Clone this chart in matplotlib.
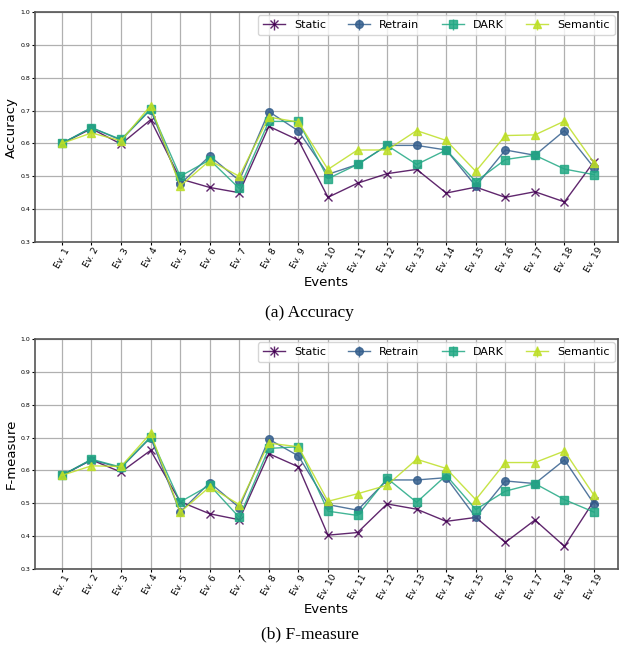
import matplotlib
matplotlib.use("Agg")
import matplotlib.pyplot as plt
import numpy as np

# ---------------------------------------------------------------------------
# data
# ---------------------------------------------------------------------------
events = [f"Ev. {i}" for i in range(1, 20)]
methods = ["Static", "Retrain", "DARK", "Semantic"]

acc_static = [0.600, 0.645, 0.598, 0.672, 0.492, 0.466, 0.450, 0.652, 0.610, 0.436,
              0.479, 0.508, 0.521, 0.449, 0.467, 0.436, 0.453, 0.422, 0.545]
acc_retrain = [0.600, 0.648, 0.610, 0.703, 0.476, 0.562, 0.487, 0.697, 0.638, 0.506,
               0.536, 0.594, 0.594, 0.580, 0.470, 0.580, 0.564, 0.639, 0.526]
acc_dark = [0.600, 0.648, 0.612, 0.705, 0.500, 0.550, 0.463, 0.667, 0.667, 0.493,
            0.536, 0.594, 0.536, 0.580, 0.484, 0.551, 0.564, 0.522, 0.505]
acc_semantic = [0.600, 0.632, 0.608, 0.715, 0.470, 0.548, 0.500, 0.680, 0.665, 0.521,
                0.580, 0.580, 0.639, 0.609, 0.515, 0.624, 0.626, 0.668, 0.541]

f1_static = [0.585, 0.632, 0.595, 0.661, 0.505, 0.468, 0.450, 0.651, 0.611, 0.403,
             0.411, 0.498, 0.482, 0.445, 0.457, 0.381, 0.449, 0.369, 0.508]
f1_retrain = [0.585, 0.632, 0.608, 0.700, 0.473, 0.563, 0.487, 0.695, 0.644, 0.496,
              0.479, 0.571, 0.571, 0.578, 0.457, 0.568, 0.560, 0.632, 0.498]
f1_dark = [0.585, 0.634, 0.610, 0.702, 0.504, 0.555, 0.457, 0.667, 0.672, 0.476,
           0.463, 0.576, 0.503, 0.585, 0.481, 0.537, 0.560, 0.511, 0.473]
f1_semantic = [0.585, 0.614, 0.612, 0.713, 0.473, 0.550, 0.496, 0.683, 0.672, 0.506,
               0.529, 0.555, 0.634, 0.606, 0.511, 0.624, 0.624, 0.659, 0.524]

markers = ["x", "o", "s", "^"]
colors = plt.cm.viridis([0.0, 0.3, 0.6, 0.9])


def draw_panel(ax, series, ylabel):
    x = np.arange(1, len(events) + 1)
    for vals, name, mk, col in zip(series, methods, markers, colors):
        # errorbar (zero-length bars) so the legend keys get the vertical tick
        ax.errorbar(x, vals, yerr=np.zeros(len(vals)), marker=mk, color=col,
                    label=name, markersize=5.5, linewidth=1.0, alpha=0.85,
                    elinewidth=1.0)
    ax.set_xticks(x)
    ax.set_xticklabels(events, rotation=60, fontsize=6.5)
    ax.set_xlim(0.09, 19.81)
    ax.set_ylim(0.3, 1.0)
    ax.set_yticks(np.arange(0.3, 1.01, 0.1))
    ax.tick_params(axis="y", labelsize=4.5, length=2, pad=1.5)
    ax.tick_params(axis="x", length=2, pad=1)
    ax.grid(True, color="#b0b0b0", linewidth=0.9)
    for sp in ax.spines.values():
        sp.set_color("#555555")
        sp.set_linewidth(1.2)
    ax.set_xlabel("Events", fontsize=9.5, labelpad=1)
    ax.set_ylabel(ylabel, fontsize=9.5, labelpad=2)
    ax.legend(loc="upper right", ncol=4, fontsize=8, borderaxespad=0.3,
              handlelength=2.0, columnspacing=2.0, borderpad=0.45)


fig = plt.figure(figsize=(6.19, 6.52), dpi=100)
ax1 = fig.add_axes([35 / 619, 1 - 242 / 652, 583 / 619, 230 / 652])
ax2 = fig.add_axes([35 / 619, 1 - 569 / 652, 583 / 619, 230 / 652])

draw_panel(ax1, [acc_static, acc_retrain, acc_dark, acc_semantic], "Accuracy")
draw_panel(ax2, [f1_static, f1_retrain, f1_dark, f1_semantic], "F-measure")

fig.text(0.5, 1 - 313 / 652, "(a) Accuracy", ha="center", va="center",
         fontsize=12.5, family="Liberation Serif")
fig.text(0.5, 1 - 634 / 652, "(b) F-measure", ha="center", va="center",
         fontsize=12.5, family="Liberation Serif")

fig.savefig("out.png", dpi=100)
